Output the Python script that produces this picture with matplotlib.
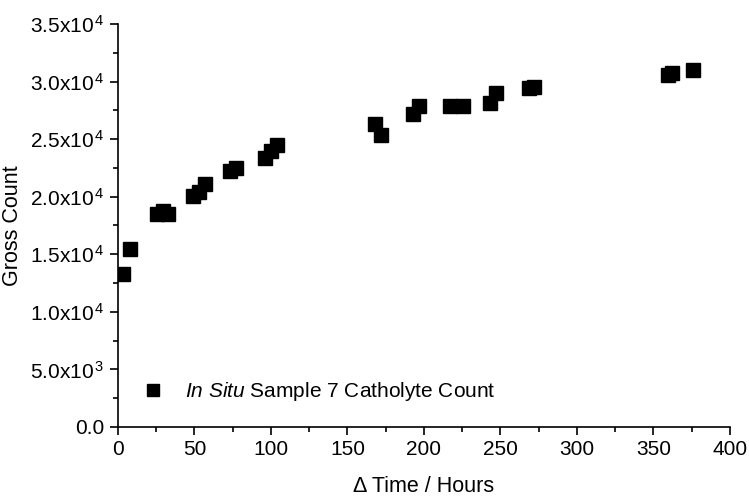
import matplotlib
matplotlib.use("Agg")
import matplotlib.pyplot as plt
from matplotlib.ticker import MultipleLocator, FuncFormatter

plt.rcParams["font.family"] = ["Liberation Sans", "DejaVu Sans"]
plt.rcParams["mathtext.fontset"] = "custom"
plt.rcParams["mathtext.rm"] = "Liberation Sans"
plt.rcParams["mathtext.it"] = "Liberation Sans:italic"

# elapsed time (hours) and gross count
hours = [3.3, 7.8, 25.5, 29.4, 32.7, 49, 53, 57, 73, 77, 96, 100, 104,
         168, 172, 193, 197, 217, 225.5, 243, 247, 269, 272, 359.5, 362, 376]
counts = [13300, 15500, 18500, 18750, 18500, 20050, 20400, 21100, 22200, 22500,
          23350, 24000, 24500, 26300, 25350, 27150, 27850, 27900, 27900, 28100,
          29000, 29450, 29500, 30550, 30750, 31000]


def sci_fmt(v, pos):
    if v == 0:
        return "0.0"
    exp = len(str(int(abs(v)))) - 1
    mant = v / 10 ** exp
    return f"{mant:.1f}x10$^{{\\,{exp}}}$"


fig = plt.figure(figsize=(7.49, 5.0), dpi=100)
ax = fig.add_axes([0.1575, 0.146, 0.817, 0.806])

ax.plot(hours, counts, linestyle="none", marker="s", markersize=9.5,
        color="black", label=r"$\it{In\ Situ}$ Sample 7 Catholyte Count")

ax.set_xlim(0, 400)
ax.set_ylim(0, 35000)
ax.xaxis.set_major_locator(MultipleLocator(50))
ax.xaxis.set_minor_locator(MultipleLocator(25))
ax.yaxis.set_major_locator(MultipleLocator(5000))
ax.yaxis.set_minor_locator(MultipleLocator(2500))
ax.yaxis.set_major_formatter(FuncFormatter(sci_fmt))

ax.spines["top"].set_visible(False)
ax.spines["right"].set_visible(False)
for s in ("left", "bottom"):
    ax.spines[s].set_linewidth(1.2)
ax.tick_params(which="major", direction="out", length=6, width=1.2, labelsize=15)
ax.tick_params(which="minor", direction="out", length=3.5, width=1.2)

ax.set_xlabel("\u0394 Time / Hours", fontsize=15.5, labelpad=12)
ax.set_ylabel("Gross Count", fontsize=15.5, labelpad=5)

ax.legend(loc="center left", bbox_to_anchor=(0.041, 0.087), frameon=False,
          fontsize=15, handlelength=1.0, handletextpad=1.0,
          borderpad=0, borderaxespad=0, markerscale=0.9)

fig.savefig("out.png", dpi=100)
